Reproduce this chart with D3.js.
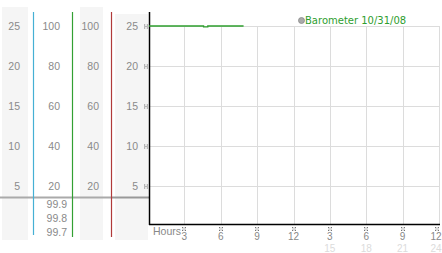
<!DOCTYPE html>
<html><head><meta charset="utf-8">
<script src="https://cdn.jsdelivr.net/npm/d3@7"></script>
<style>html,body{margin:0;padding:0;background:#fff;}svg{display:block;}</style>
</head><body>
<script>
const yTicks = [5, 10, 15, 20, 25];
const pctLabels = ["20", "40", "60", "80", "100"];
const baroLabels = ["99.9", "99.8", "99.7"];
const hourTicks = [3, 6, 9, 12, 15, 18, 21, 24];
const hourLabels12 = ["3", "6", "9", "12", "3", "6", "9", "12"];
const hourLabels24 = ["", "", "", "", "15", "18", "21", "24"];
const baroHours = [0, 1, 2, 3, 4, 4.4, 4.5, 4.75, 4.85, 5, 6, 7, 7.8];
const baroValues = [25, 25, 25, 25, 25, 25, 24.88, 24.88, 25, 25, 25, 25, 25];
const legendLabel = "Barometer 10/31/08";

const W = 442, H = 253;
const svg = d3.select("body").append("svg").attr("width", W).attr("height", H);
const font = "Liberation Sans, Arial, sans-serif";
const x = d3.scaleLinear().domain([0, 24]).range([149, 440]);
const y = d3.scaleLinear().domain([0, 27]).range([226, 10]);

// left panels backgrounds
const panels = [[2, 7, 26, 233], [80, 7, 23, 233], [115, 14, 33, 226]];
svg.selectAll("rect.panel").data(panels).join("rect")
  .attr("x", d => d[0]).attr("y", d => d[1]).attr("width", d => d[2]).attr("height", d => d[3])
  .attr("fill", "#f5f5f5");

// plot area
svg.append("rect").attr("x", 149).attr("y", 12).attr("width", 291).attr("height", 212).attr("fill", "#fff");

// gridlines
svg.append("g").selectAll("line").data(yTicks).join("line")
  .attr("x1", 149).attr("x2", 440).attr("y1", d => Math.round(y(d)) + 0.5).attr("y2", d => Math.round(y(d)) + 0.5)
  .attr("stroke", "#dcdcdc");
svg.append("g").selectAll("line").data(hourTicks).join("line")
  .attr("x1", d => Math.round(x(d)) - 0.5).attr("x2", d => Math.round(x(d)) - 0.5)
  .attr("y1", y(25)).attr("y2", 224)
  .attr("stroke", "#dcdcdc");

// horizontal separator in left area
svg.append("line").attr("x1", 0).attr("x2", 111).attr("y1", 197.5).attr("y2", 197.5)
  .attr("stroke", "#aaa").attr("stroke-width", 2);
svg.append("line").attr("x1", 111).attr("x2", 149).attr("y1", 197.5).attr("y2", 197.5)
  .attr("stroke", "#999").attr("stroke-width", 2);

// colored axis lines
const colLines = [[33.5, "#45b0d4", 235], [72.5, "#33a033", 237], [111.5, "#b03a3a", 237]];
svg.selectAll("line.col").data(colLines).join("line")
  .attr("x1", d => d[0]).attr("x2", d => d[0]).attr("y1", 12).attr("y2", d => d[2])
  .attr("stroke", d => d[1]).attr("stroke-width", 1.2);

// left labels
function labelCol(xr, labels) {
  svg.append("g").selectAll("text").data(yTicks).join("text")
    .attr("x", xr).attr("y", d => y(d)).attr("dy", "0.35em")
    .attr("text-anchor", "end").attr("font-family", font).attr("font-size", 10.5)
    .attr("fill", "#8a8a8a").text((d, i) => labels[i]);
}
labelCol(20, yTicks.map(String));
labelCol(60, pctLabels);
labelCol(99, pctLabels);
labelCol(138, yTicks.map(String));

svg.append("g").selectAll("text").data(baroLabels).join("text")
  .attr("x", 67).attr("y", (d, i) => 204 + i * 14).attr("dy", "0.35em")
  .attr("text-anchor", "end").attr("font-family", font).attr("font-size", 10.5)
  .attr("fill", "#8a8a8a").text(d => d);

// tick marker glyph
function marker(g, cx, cy) {
  const pts = [[-1, -1], [1, -1], [0, 0], [-1, 1], [1, 1], [-1, 0], [1, 0], [0, -1], [0, 1]];
  pts.forEach((p, i) => {
    g.append("rect").attr("x", cx + p[0] * 1.5 - 0.5).attr("y", cy + p[1] * 1.5 - 0.5)
      .attr("width", 1).attr("height", 1).attr("fill", (i < 5) ? "#777" : "#bbb");
  });
}
const gm = svg.append("g");
yTicks.forEach(t => marker(gm, 146, Math.round(y(t)) + 0.5));
hourTicks.forEach(t => marker(gm, Math.min(Math.round(x(t)) - 1, 437), 229));

// x labels
const lx = (d) => Math.min(x(d) - 1, 436);
svg.append("g").selectAll("text").data(hourTicks).join("text")
  .attr("x", lx).attr("y", 240).attr("text-anchor", "middle")
  .attr("font-family", font).attr("font-size", 10).attr("fill", "#888")
  .text((d, i) => hourLabels12[i]);
svg.append("g").selectAll("text").data(hourTicks).join("text")
  .attr("x", lx).attr("y", 252).attr("text-anchor", "middle")
  .attr("font-family", font).attr("font-size", 10).attr("fill", "#dcdcdc")
  .text((d, i) => hourLabels24[i]);
svg.append("text").attr("x", 153).attr("y", 235).attr("font-family", font).attr("font-size", 10.5)
  .attr("fill", "#888").text("Hours");

// axes
svg.append("line").attr("x1", 149.5).attr("x2", 149.5).attr("y1", 12).attr("y2", 225)
  .attr("stroke", "#000").attr("stroke-width", 1.5);
svg.append("line").attr("x1", 149).attr("x2", 440).attr("y1", 224.5).attr("y2", 224.5)
  .attr("stroke", "#000").attr("stroke-width", 1.5);

// barometer line
const data = baroHours.map((h, i) => [h, baroValues[i]]);
svg.append("path").datum(data)
  .attr("d", d3.line().x(d => x(d[0])).y(d => y(d[1])).curve(d3.curveStepAfter))
  .attr("fill", "none").attr("stroke", "#2e9e2e").attr("stroke-width", 1.3);

// legend
svg.append("circle").attr("cx", 301.5).attr("cy", 20.5).attr("r", 3)
  .attr("fill", "#aaa").attr("stroke", "#888").attr("stroke-width", 0.8);
svg.append("text").attr("x", 305).attr("y", 24).attr("font-family", "DejaVu Sans, sans-serif")
  .attr("font-size", 10).attr("fill", "#2e9e2e").text(legendLabel);
</script>
</body></html>
